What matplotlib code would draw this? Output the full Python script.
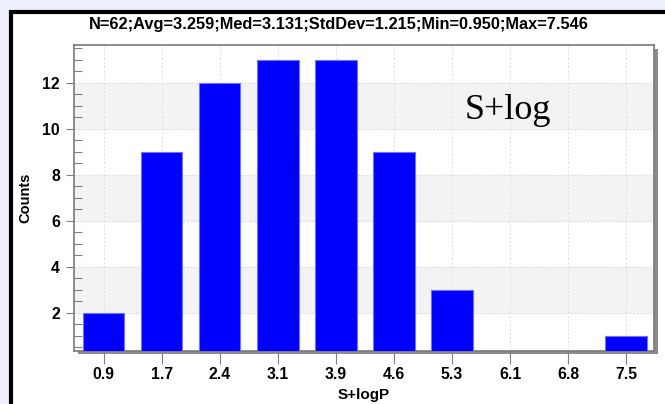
import matplotlib.pyplot as plt
import numpy as np
from matplotlib.patches import Rectangle

# histogram of S+logP values
bin_labels = ['0.9', '1.7', '2.4', '3.1', '3.9', '4.6', '5.3', '6.1', '6.8', '7.5']
counts = [2, 9, 12, 13, 13, 9, 3, 0, 0, 1]
title = 'N=62;Avg=3.259;Med=3.131;StdDev=1.215;Min=0.950;Max=7.546'

plt.rcParams['font.family'] = ['Liberation Sans', 'DejaVu Sans']

W, H = 665, 404
fig = plt.figure(figsize=(W / 100, H / 100), dpi=100)
fig.patch.set_facecolor('#eef0fb')

# white panel with thick black frame
fig.patches.append(Rectangle((10.5 / W, -0.05), 1.0, (H - 11.5) / H + 0.05, transform=fig.transFigure,
                             facecolor='white', edgecolor='black', linewidth=3, zorder=0))

left, right, top, bottom = 74, 654, 45, 350.5
pos = [left / W, (H - bottom) / H, (right - left) / W, (bottom - top) / H]
# drop shadow of the plot area
fig.patches.append(Rectangle(((left + 3.5) / W, (H - bottom - 3.5) / H), pos[2], pos[3],
                             transform=fig.transFigure, facecolor='#8c8c8c', edgecolor='none', zorder=0.5))

ax = fig.add_axes(pos)
ax.set_zorder(1)
ax.set_facecolor('white')
x = np.arange(len(counts))

for lo, hi in [(2, 4), (6, 8), (10, 12)]:
    ax.axhspan(lo, hi, color='#f3f3f3', zorder=0)

ax.bar(x, counts, width=0.715, color='#0000ff', edgecolor='#7070ff', linewidth=0.8, zorder=3)

ax.set_xlim(-0.51, 9.48)
ax.set_ylim(0.36, 13.64)
ax.set_xticks(x)
ax.set_xticklabels(bin_labels)
ax.set_yticks([2, 4, 6, 8, 10, 12])
ax.set_yticks(np.arange(0.5, 13.6, 0.5), minor=True)

ax.grid(True, which='major', color='#dadada', linestyle=(0, (2.5, 2.5)), linewidth=0.6, zorder=1)
ax.set_axisbelow(True)

for s in ax.spines.values():
    s.set_color('#7a7a7a')
    s.set_linewidth(1.2)

ax.tick_params(axis='x', which='major', direction='out', length=9, width=0.8, color='#808080',
               labelsize=11.3, pad=3)
ax.tick_params(axis='y', which='major', direction='out', length=6, width=0.8, color='#808080',
               labelsize=11.3, pad=4)
ax.tick_params(axis='y', which='minor', direction='in', length=6, width=0.8, color='#808080')
for lab in ax.get_xticklabels() + ax.get_yticklabels():
    lab.set_fontweight('bold')

ax.set_xlabel('S+logP', fontsize=11, fontweight='bold', labelpad=4)
ax.set_ylabel('Counts', fontsize=10.5, fontweight='bold', labelpad=7)

fig.text(339 / W, 1 - 25 / H, title, ha='center', va='center', fontsize=11.8, fontweight='bold')
ax.text(465 / W, 1 - 119 / H, 'S+log', transform=fig.transFigure, ha='left', va='baseline',
        fontsize=26, family='Liberation Serif', zorder=5)

fig.savefig('out.png', dpi=100, facecolor=fig.get_facecolor())
